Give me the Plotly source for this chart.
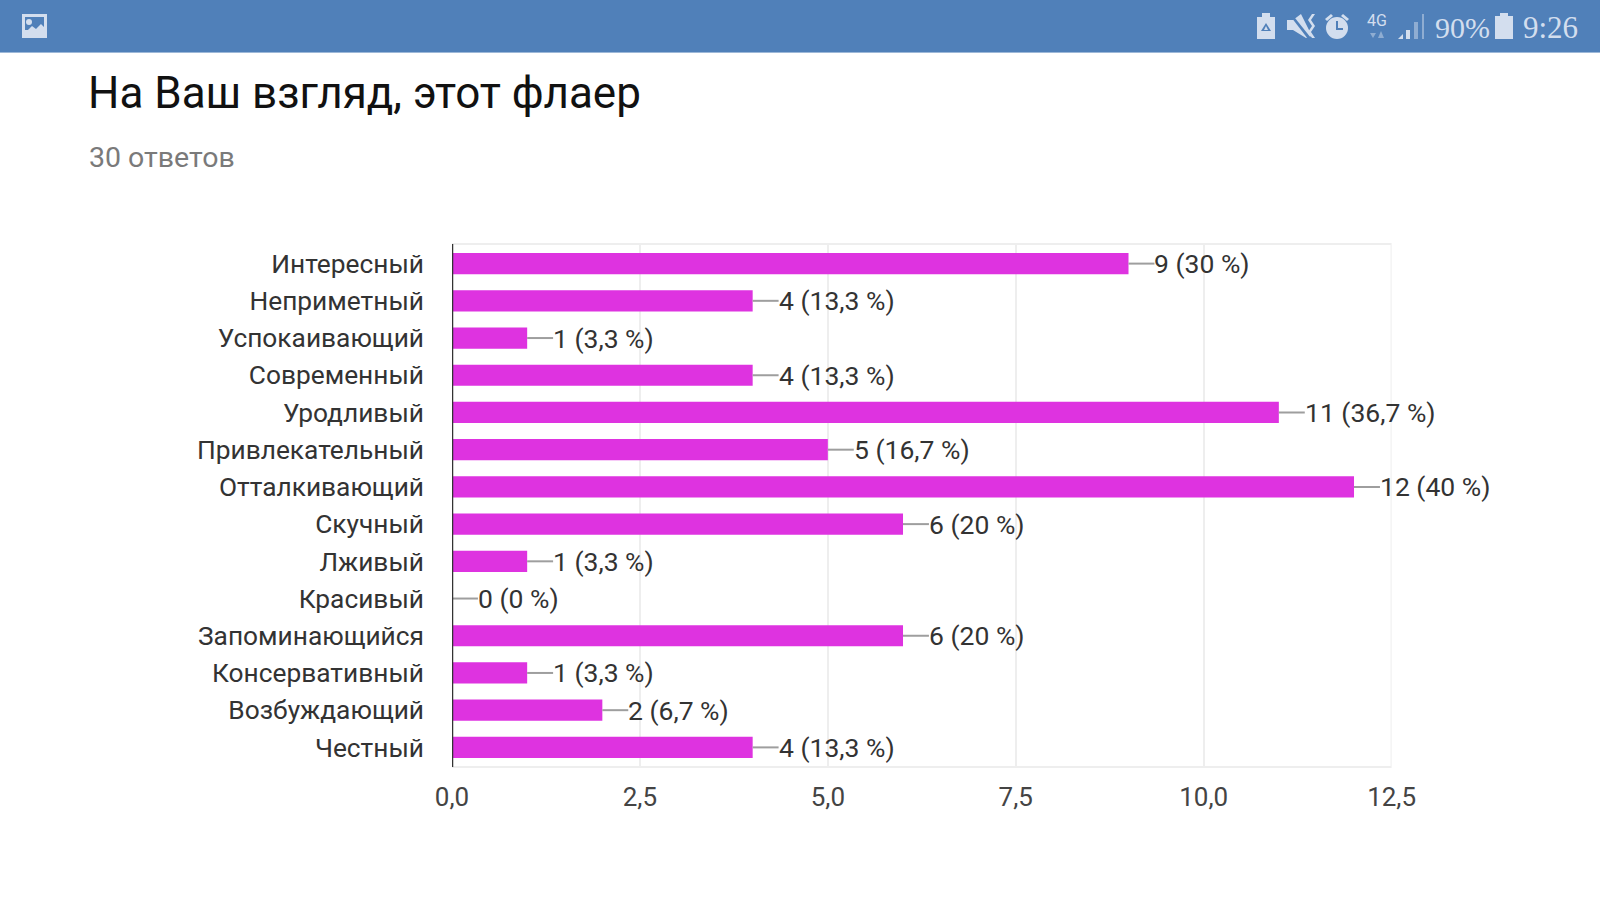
import plotly.graph_objects as go

categories = ["Интересный", "Неприметный", "Успокаивающий", "Современный", "Уродливый",
              "Привлекательный", "Отталкивающий", "Скучный", "Лживый", "Красивый",
              "Запоминающийся", "Консервативный", "Возбуждающий", "Честный"]
values = [9, 4, 1, 4, 11, 5, 12, 6, 1, 0, 6, 1, 2, 4]
labels = ["9 (30 %)", "4 (13,3 %)", "1 (3,3 %)", "4 (13,3 %)", "11 (36,7 %)", "5 (16,7 %)",
          "12 (40 %)", "6 (20 %)", "1 (3,3 %)", "0 (0 %)", "6 (20 %)", "1 (3,3 %)",
          "2 (6,7 %)", "4 (13,3 %)"]
x_ticks = [0, 2.5, 5, 7.5, 10, 12.5]
x_tick_labels = ["0,0", "2,5", "5,0", "7,5", "10,0", "12,5"]
title_text = "На Ваш взгляд, этот флаер"
subtitle_text = "30 ответов"

W, H = 1600, 900
FONT = "Roboto"
NARROW = "Liberation Sans Narrow"
LEADER = 0.345
ICON = "#d3deee"
ICON2 = "#8fadd2"


def px(x):
    return x / W


def py(y):
    return 1 - y / H


def path(d, color, **kw):
    out, toks = [], d.split()
    i = 0
    while i < len(toks):
        t = toks[i]
        if t in "MLZ":
            out.append(t)
            i += 1
        else:
            out.append(f"{px(float(t)):.5f},{py(float(toks[i + 1])):.5f}")
            i += 2
    return dict(type="path", xref="paper", yref="paper", path=" ".join(out),
                fillcolor=color, line=dict(width=0), **kw)


def rect(x0, y0, x1, y1, color):
    return dict(type="rect", xref="paper", yref="paper", x0=px(x0), x1=px(x1), y0=py(y0), y1=py(y1),
                fillcolor=color, line=dict(width=0), layer="above")


def circ(x0, y0, x1, y1, fill, lc=None, lw=0):
    return dict(type="circle", xref="paper", yref="paper", x0=px(x0), x1=px(x1), y0=py(y0), y1=py(y1),
                fillcolor=fill, line=dict(width=lw, color=lc or fill), layer="above")


HEAD = "#5080b9"
shapes = [rect(0, 0, 1600, 52, HEAD), rect(0, 52, 1600, 53, "#9db8d8")]
# picture icon
shapes += [rect(22, 14, 47, 38, ICON), rect(25, 17, 44, 30, HEAD), circ(26, 19, 32, 25, ICON),
           path("M 25 33 L 32 26 L 36 29 L 41 24 L 44 27 L 44 35 L 25 35 Z", ICON, layer="above")]
# battery saver
shapes += [rect(1257, 17, 1275, 39, ICON), rect(1262, 13, 1270, 17, ICON),
           path("M 1266 23 L 1271 31 L 1261 31 Z", HEAD, layer="above"),
           path("M 1266 26 L 1268 30 L 1264 30 Z", ICON, layer="above")]
# muted vibrate
shapes += [path("M 1287 20 L 1293 20 L 1301 14 L 1312 36 L 1306 38 L 1293 30 L 1287 30 Z", ICON, layer="above"),
           path("M 1288 13 L 1291 13 L 1311 38 L 1308 39 Z", HEAD, layer="above"),
           path("M 1312 14 L 1315 14 L 1311 20 L 1315 26 L 1311 32 L 1315 38 L 1312 38 L 1308 32 L 1312 26 L 1308 20 Z", ICON, layer="above")]
# alarm
shapes += [circ(1326, 17, 1348, 39, ICON), rect(1336, 21, 1338, 30, HEAD), rect(1336, 28, 1343, 30, HEAD),
           path("M 1325 19 L 1331 14 L 1333 16 L 1327 21 Z", ICON, layer="above"),
           path("M 1343 14 L 1349 19 L 1347 21 L 1341 16 Z", ICON, layer="above")]
# network arrows
shapes += [path("M 1370 33 L 1376 33 L 1373 38 Z", ICON2, layer="above"),
           path("M 1378 38 L 1384 38 L 1381 31 Z", ICON2, layer="above")]
# signal
shapes += [path("M 1398 39 L 1403 34 L 1403 39 Z", ICON, layer="above"),
           rect(1406, 30, 1410, 39, ICON), rect(1414, 22, 1418, 39, ICON2), rect(1422, 14, 1424, 39, ICON2)]
# battery
shapes += [rect(1495, 16, 1513, 39, ICON), rect(1500, 13, 1508, 16, ICON)]

annotations = [
    dict(text=title_text, x=px(87), y=py(93), font=dict(size=44, color="#111111", family=FONT)),
    dict(text=subtitle_text, x=px(88), y=py(157.6), font=dict(size=28.5, color="#7a7a7a", family=FONT)),
    dict(text="4G", x=px(1366), y=py(20), font=dict(size=16, color=ICON, family=FONT)),
    dict(text="90%", x=px(1434), y=py(28), font=dict(size=30, color=ICON, family=NARROW)),
    dict(text="9:26", x=px(1522), y=py(28), font=dict(size=31, color=ICON, family=NARROW)),
]
for a in annotations:
    a.update(xref="paper", yref="paper", xanchor="left", yanchor="middle", showarrow=False, borderpad=0)

# Value labels, anchored to the data through the axes
for cat, val, lab in zip(categories, values, labels):
    annotations.append(dict(text=lab, xref="x", yref="y", x=val + LEADER, y=cat, xanchor="left", yanchor="middle",
                            xshift=-1, yshift=0, showarrow=False, borderpad=0,
                            font=dict(size=26.5, color="#333333", family=FONT)))

fig = go.Figure()
fig.add_trace(go.Bar(y=categories, x=values, orientation="h", width=0.57,
                     marker=dict(color="#de33e0", line=dict(width=0)), hoverinfo="skip"))
fig.add_trace(go.Scatter(y=categories, x=values, mode="markers", marker=dict(size=1, opacity=0),
                         cliponaxis=False, hoverinfo="skip",
                         error_x=dict(type="constant", value=LEADER, valueminus=0, symmetric=False, width=0,
                                      color="#9e9e9e", thickness=2)))
fig.update_layout(
    width=W, height=H, margin=dict(l=0, r=0, t=0, b=0, pad=0), autosize=False,
    paper_bgcolor="white", plot_bgcolor="white", showlegend=False,
    shapes=shapes, annotations=annotations, bargap=0.43,
    font=dict(family=FONT),
    xaxis=dict(domain=[px(452), px(1391.6)], range=[0, 12.5], tickmode="array", tickvals=x_ticks,
               ticktext=x_tick_labels, showgrid=True, gridcolor="#eeeeee", gridwidth=2, automargin=False,
               zeroline=False, showline=False, ticks="outside", ticklen=8, tickcolor="rgba(0,0,0,0)",
               tickfont=dict(size=26, color="#444444", family=FONT)),
    yaxis=dict(domain=[py(766), py(245)], range=[13.5, -0.5], showgrid=False, zeroline=False, automargin=False,
               showline=False, ticks="", ticklabelstandoff=27,
               tickfont=dict(size=26.3, color="#333333", family=FONT)),
)
# Plot frame and dark baseline, placed from the axes themselves
fig.add_shape(type="rect", xref="x", yref="paper", x0=0, x1=12.5, y0=py(767), y1=py(244),
              line=dict(color="#eeeeee", width=2), layer="below")
fig.add_shape(type="line", xref="x", yref="paper", x0=0, x1=0, y0=py(767), y1=py(244),
              line=dict(color="#333333", width=2.5), layer="above")

fig.write_html("out.html", config=dict(displayModeBar=False),
               post_script="document.body.style.margin='0';document.documentElement.style.overflow='hidden';")
